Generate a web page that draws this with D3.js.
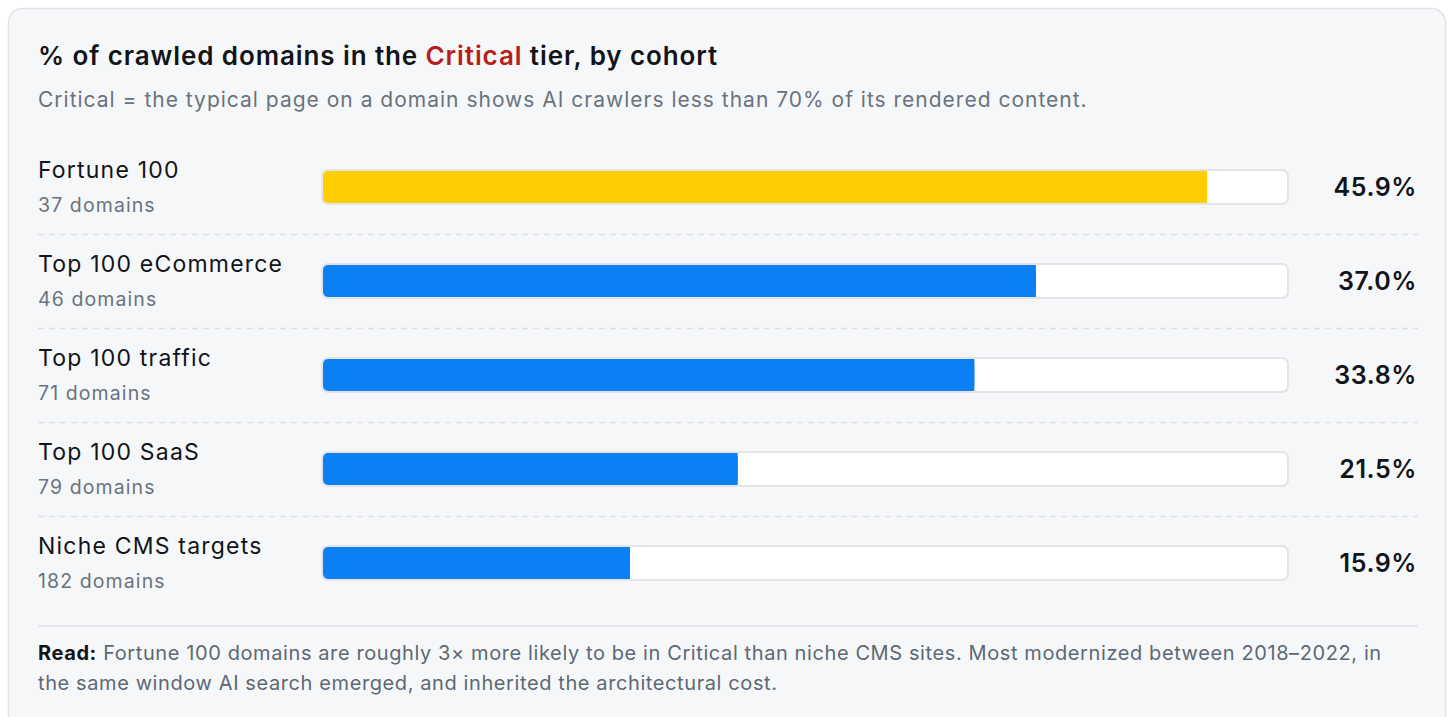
<!DOCTYPE html>
<html>
<head>
<meta charset="utf-8">
<script src="https://cdn.jsdelivr.net/npm/d3@7"></script>
<style>
  html, body { margin: 0; padding: 0; background: #ffffff; }
  svg { display: block; font-family: Inter, "Noto Sans", sans-serif; }
</style>
</head>
<body>
<div id="chart"></div>
<script>
// cohorts, domain counts and % in Critical tier
var cohorts = ["Fortune 100", "Top 100 eCommerce", "Top 100 traffic", "Top 100 SaaS", "Niche CMS targets"];
var domainCounts = [37, 46, 71, 79, 182];
var criticalPct = [45.9, 37.0, 33.8, 21.5, 15.9];
var highlight = ["Fortune 100"];

var W = 1450, H = 717;

var svg = d3.select("#chart").append("svg")
    .attr("width", W)
    .attr("height", H);

// card
svg.append("rect")
    .attr("x", 8.5).attr("y", 8.5)
    .attr("width", 1437).attr("height", 740)
    .attr("rx", 14)
    .attr("fill", "#f6f7f9")
    .attr("stroke", "#e1e3e6")
    .attr("stroke-width", 1.5);

// title
var title = svg.append("text")
    .attr("x", 38).attr("y", 65)
    .style("font-size", "26px")
    .style("font-weight", 600)
    .style("letter-spacing", "0.9px")
    .attr("fill", "#111418");
title.append("tspan").text("% of crawled domains in the ");
title.append("tspan").attr("fill", "#b91c1c").text("Critical");
title.append("tspan").text(" tier, by cohort");

svg.append("text")
    .attr("x", 38).attr("y", 107)
    .style("font-size", "21px")
    .style("letter-spacing", "1px")
    .attr("fill", "#69737d")
    .text("Critical = the typical page on a domain shows AI crawlers less than 70% of its rendered content.");

var x = d3.scaleLinear().domain([0, 50]).range([324, 1286]);
var y = d3.scaleBand().domain(cohorts).range([140, 610]);

var rows = svg.selectAll("g.row")
    .data(cohorts.map(function(c, i) {
        return {name: c, n: domainCounts[i], pct: criticalPct[i], idx: i};
    }))
    .enter().append("g")
    .attr("class", "row")
    .attr("transform", function(d) { return "translate(0," + y(d.name) + ")"; });

rows.append("text")
    .attr("x", 38).attr("y", 38)
    .style("font-size", "23px")
    .style("letter-spacing", "1.2px")
    .attr("fill", "#111418")
    .text(function(d) { return d.name; });

rows.append("text")
    .attr("x", 38).attr("y", 72)
    .style("font-size", "19.5px")
    .style("letter-spacing", "1.1px")
    .attr("fill", "#69737d")
    .text(function(d) { return d.n + " domains"; });

// track
rows.append("rect")
    .attr("x", x(0) - 2).attr("y", 30)
    .attr("width", x(50) - x(0) + 4).attr("height", 34)
    .attr("rx", 6)
    .attr("fill", "#ffffff")
    .attr("stroke", "#e2e4e7")
    .attr("stroke-width", 2);

var fillColor = function(d) { return highlight.indexOf(d.name) >= 0 ? "#ffcd00" : "#0b7ff4"; };

// value bar
rows.append("rect")
    .attr("x", x(0) - 1).attr("y", 31)
    .attr("width", function(d) { return x(d.pct) - x(0) + 1; })
    .attr("height", 32)
    .attr("rx", 5)
    .attr("fill", fillColor);

// square off right end of fill
rows.append("rect")
    .attr("x", function(d) { return x(d.pct) - 6; }).attr("y", 31)
    .attr("width", 6).attr("height", 32)
    .attr("fill", fillColor);

rows.append("text")
    .attr("x", 1417).attr("y", 56)
    .attr("text-anchor", "end")
    .style("font-size", "25px")
    .style("font-weight", 600)
    .style("letter-spacing", "0.6px")
    .attr("fill", "#111418")
    .text(function(d) { return d.pct.toFixed(1) + "%"; });

// dashed separators
rows.filter(function(d) { return d.idx < cohorts.length - 1; })
    .append("line")
    .attr("x1", 38).attr("x2", 1418)
    .attr("y1", 94.5).attr("y2", 94.5)
    .attr("stroke", "#dcdfe3")
    .attr("stroke-width", 1.5)
    .attr("stroke-dasharray", "6,5");

// footer
svg.append("line")
    .attr("x1", 38).attr("x2", 1418)
    .attr("y1", 626).attr("y2", 626)
    .attr("stroke", "#e0e2e6")
    .attr("stroke-width", 1.5);

var foot1 = svg.append("text")
    .attr("x", 38).attr("y", 660)
    .style("font-size", "20px")
    .style("letter-spacing", "0.6px")
    .attr("fill", "#5d6874");
foot1.append("tspan").style("font-weight", 700).attr("fill", "#111418").text("Read:");
foot1.append("tspan").text(" Fortune 100 domains are roughly 3\u00d7 more likely to be in Critical than niche CMS sites. Most modernized between 2018\u20132022, in");

svg.append("text")
    .attr("x", 38).attr("y", 690)
    .style("font-size", "20px")
    .style("letter-spacing", "0.6px")
    .attr("fill", "#5d6874")
    .text("the same window AI search emerged, and inherited the architectural cost.");
</script>
</body>
</html>
